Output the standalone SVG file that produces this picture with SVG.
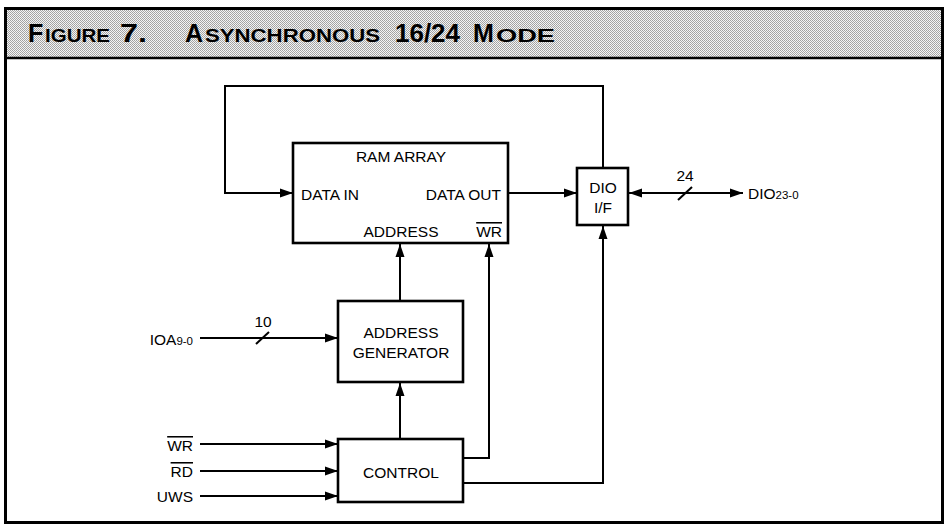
<svg xmlns="http://www.w3.org/2000/svg" width="950" height="526" viewBox="0 0 950 526">
<style>
.box{fill:#fff;stroke:#000;stroke-width:2.6}
.ln{fill:none;stroke:#000;stroke-width:2}
.t{font-family:"Liberation Sans",Arial,sans-serif;font-size:15.5px;fill:#000}
.m{text-anchor:middle}
.e{text-anchor:end}
.sub{font-size:11.5px}
.ttl{font-family:"Liberation Sans",Arial,sans-serif;font-weight:bold;fill:#000}
.big{font-size:25px}
.sm{font-size:19px}
.ov{text-decoration:overline}
</style>
<defs>
<pattern id="dots" width="2" height="2" patternUnits="userSpaceOnUse">
<rect width="2" height="2" fill="#f4f4f4"/>
<rect width="1" height="1" fill="#a0a0a0"/>
<rect x="1" y="1" width="1" height="1" fill="#a8a8a8"/>
</pattern>
<marker id="ar" markerUnits="userSpaceOnUse" markerWidth="14" markerHeight="10" refX="13" refY="5" orient="auto">
<path d="M0,0.5 L13,5 L0,9.5 Z" fill="#000"/>
</marker>
<marker id="arS" markerUnits="userSpaceOnUse" markerWidth="14" markerHeight="10" refX="0" refY="5" orient="auto">
<path d="M13,0.5 L0,5 L13,9.5 Z" fill="#000"/>
</marker>
</defs>
<rect x="0" y="0" width="950" height="526" fill="#fff"/>
<!-- frame -->
<rect x="5.5" y="8.5" width="937" height="50" fill="url(#dots)"/>
<line x1="5" y1="58" x2="943" y2="58" stroke="#000" stroke-width="2.5"/>
<rect x="5.5" y="8.5" width="937" height="514" fill="none" stroke="#000" stroke-width="3"/>
<g id="title">
<text class="ttl big" x="28" y="42">F</text>
<text class="ttl sm" x="45" y="42" textLength="65" lengthAdjust="spacingAndGlyphs">IGURE</text>
<text class="ttl big" x="120" y="42" textLength="27" lengthAdjust="spacingAndGlyphs">7.</text>
<text class="ttl big" x="185" y="42">A</text>
<text class="ttl sm" x="205" y="42" textLength="175" lengthAdjust="spacingAndGlyphs">SYNCHRONOUS</text>
<text class="ttl big" x="395" y="42" textLength="65" lengthAdjust="spacingAndGlyphs">16/24</text>
<text class="ttl big" x="473" y="42">M</text>
<text class="ttl sm" x="496" y="42" textLength="59" lengthAdjust="spacingAndGlyphs">ODE</text>
</g>

<g id="connectors">
<path class="ln" d="M603,168 V86 H225 V193 H293" marker-end="url(#ar)"/>
<path class="ln" d="M508,193 H577" marker-end="url(#ar)"/>
<path class="ln" d="M629,193 H743" marker-start="url(#arS)" marker-end="url(#ar)"/>
<line class="ln" x1="678" y1="200" x2="692" y2="187"/>
<path class="ln" d="M400,301 V244" marker-end="url(#ar)"/>
<path class="ln" d="M200,338 H338" marker-end="url(#ar)"/>
<line class="ln" x1="256" y1="344" x2="269" y2="332"/>
<path class="ln" d="M400,439 V383" marker-end="url(#ar)"/>
<path class="ln" d="M463,458 H489 V244" marker-end="url(#ar)"/>
<path class="ln" d="M463,483 H603 V226" marker-end="url(#ar)"/>
<path class="ln" d="M200,444 H338" marker-end="url(#ar)"/>
<path class="ln" d="M200,471 H338" marker-end="url(#ar)"/>
<path class="ln" d="M200,496 H338" marker-end="url(#ar)"/>
</g>

<g id="ram">
<rect class="box" x="293" y="143" width="215" height="100"/>
<text class="t m" x="401" y="162">RAM ARRAY</text>
<text class="t" x="301" y="200">DATA IN</text>
<text class="t e" x="501" y="200">DATA OUT</text>
<text class="t m" x="401" y="237">ADDRESS</text>
<text class="t e" x="502" y="237"><tspan class="ov">WR</tspan></text>
</g>

<g id="dio">
<rect class="box" x="577" y="168" width="51" height="57"/>
<text class="t m" x="603" y="193">DIO</text>
<text class="t m" x="603" y="213">I/F</text>
</g>

<g id="addrgen">
<rect class="box" x="338" y="301" width="125" height="81"/>
<text class="t m" x="401" y="338">ADDRESS</text>
<text class="t m" x="401" y="358">GENERATOR</text>
</g>

<g id="control">
<rect class="box" x="338" y="439" width="125" height="63"/>
<text class="t m" x="401" y="478">CONTROL</text>
</g>

<g id="labels">
<text class="t m" x="685" y="181">24</text>
<text class="t" x="748" y="199">DIO<tspan class="sub">23-0</tspan></text>
<text class="t m" x="263" y="327">10</text>
<text class="t e" x="193" y="345">IOA<tspan class="sub">9-0</tspan></text>
<text class="t e" x="193" y="451"><tspan class="ov">WR</tspan></text>
<text class="t e" x="193" y="477"><tspan class="ov">RD</tspan></text>
<text class="t e" x="193" y="502">UWS</text>
</g>
</svg>
